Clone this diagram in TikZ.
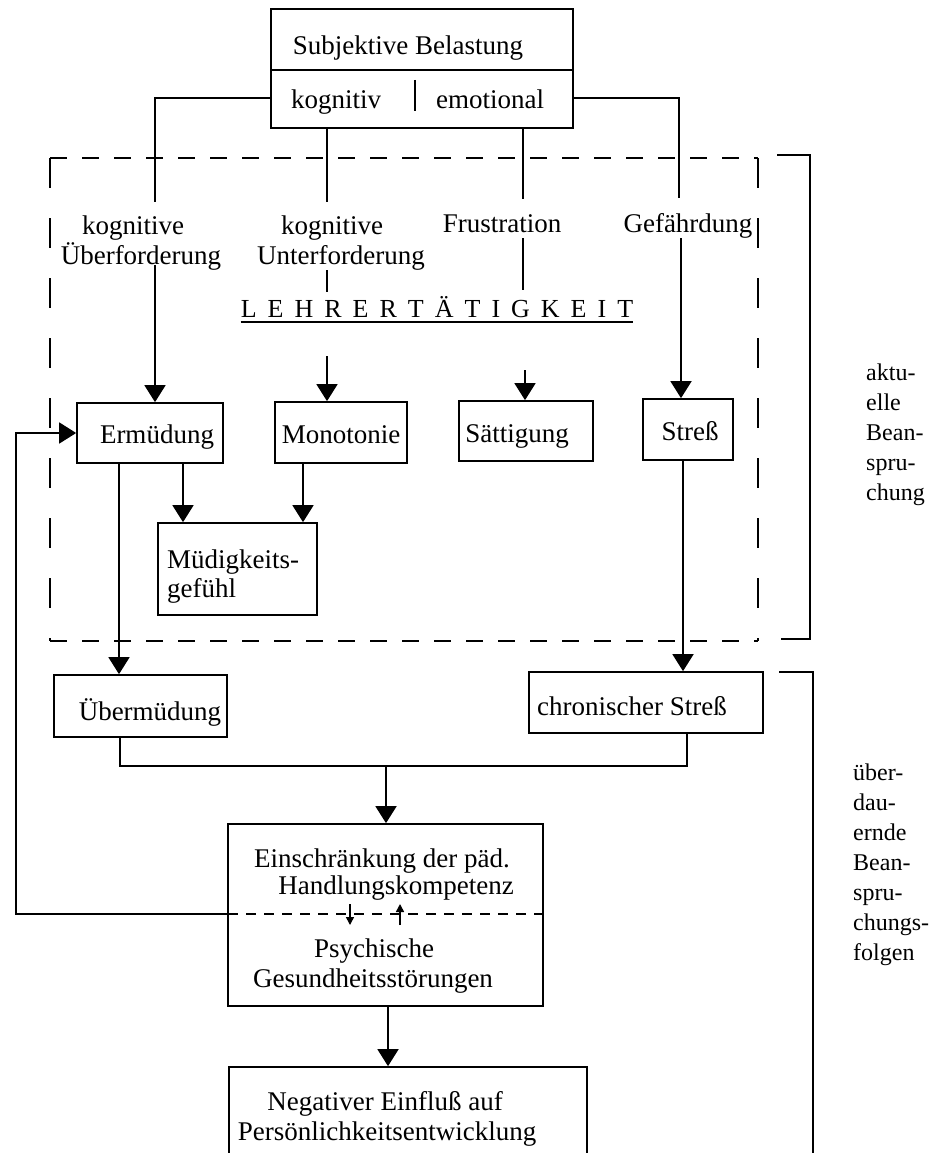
\documentclass[tikz,border=0pt]{standalone}
\usepackage{fontspec}
\setmainfont{Liberation Serif}
\usetikzlibrary{arrows.meta}

\newcommand\txtsize{\fontsize{27}{30}\selectfont}
\newcommand\sidesize{\fontsize{24}{28}\selectfont}

\tikzset{
  boxs/.style={draw, line width=1.7pt, inner sep=0pt},
  txt/.style={inner sep=0pt, font=\txtsize, anchor=base},
  side/.style={inner sep=0pt, font=\sidesize, anchor=base west},
  conn/.style={line width=1.7pt},
  arr/.style={conn, -{Triangle[length=17pt,width=21pt]}},
  tinyarr/.style={line width=1.5pt, -{Triangle[length=8pt,width=8pt]}},
  dashh/.style={line width=1.7pt, dash pattern=on 17pt off 15pt},
  dashv/.style={line width=1.7pt, dash pattern=on 30pt off 30pt},
  dashs/.style={line width=1.5pt, dash pattern=on 10pt off 8pt},
}

\begin{document}
\begin{tikzpicture}[x=1pt,y=-1pt]
\useasboundingbox (0,0) rectangle (942,1153);
\clip (0,0) rectangle (942,1153);

% ---------- top box ----------
\node[boxs, minimum width=302pt, minimum height=61pt] (belast) at (422,39.5) {};
\node[boxs, minimum width=302pt, minimum height=58pt] (art) at (422,99) {};
\node[txt] (belastT) at (408,55) {Subjektive Belastung};
\node[txt] (kog) at (336,109) {kognitiv};
\node[txt] (emo) at (490,109) {emotional};
\coordinate (barT) at (415,80);
\coordinate (barB) at (415,111);
\draw[conn] (barT) -- (barB);

% ---------- dashed frame ----------
\coordinate (fNW) at (50,158);
\coordinate (fNE) at (758,158);
\coordinate (fSE) at (758,641);
\coordinate (fSW) at (50,641);
\draw[dashh] (fNW) -- (fNE);
\draw[dashh] (fSW) -- (fSE);
\draw[dashv] (fNW) -- (fSW);
\draw[dashv] (fNE) -- (fSE);

% ---------- load types ----------
\node[txt] (uebA) at (133,234) {kognitive};
\node[txt] (uebB) at (141,264) {Überforderung};
\node[txt] (untA) at (332,234) {kognitive};
\node[txt] (untB) at (341,264) {Unterforderung};
\node[txt] (frus) at (502,232) {Frustration};
\node[txt] (gef) at (688,232) {Gefährdung};

% LEHRERTÄTIGKEIT, spaced and underlined
\node[txt, font=\fontsize{26}{28}\selectfont] (lehr) at (437,317)
  {L\hspace{11pt}E\hspace{11pt}H\hspace{11pt}R\hspace{11pt}E\hspace{11pt}R\hspace{11pt}T\hspace{11pt}Ä\hspace{11pt}T\hspace{11pt}I\hspace{11pt}G\hspace{11pt}K\hspace{11pt}E\hspace{11pt}I\hspace{11pt}T};
\draw[line width=1.4pt] ([yshift=-5pt]lehr.base west) -- ([yshift=-5pt]lehr.base east);

% ---------- current strain boxes ----------
\node[boxs, minimum width=146pt, minimum height=60pt] (erm) at (150,433) {};
\node[txt] (ermT) at (157,443) {Ermüdung};
\node[boxs, minimum width=132pt, minimum height=61pt] (mono) at (341,432.5) {};
\node[txt] (monoT) at (341,443) {Monotonie};
\node[boxs, minimum width=134pt, minimum height=60pt] (saett) at (526,431) {};
\node[txt] (saettT) at (517,442) {Sättigung};
\node[boxs, minimum width=90pt, minimum height=61pt] (stress) at (688,429.5) {};
\node[txt] (stressT) at (690,440) {Streß};
\node[boxs, minimum width=159pt, minimum height=92pt] (muede) at (237.5,569) {};
\node[txt, anchor=base west] (muedeA) at (167,568) {Müdigkeits-};
\node[txt, anchor=base west] (muedeB) at (167,597) {gefühl};

% ---------- lasting consequences ----------
\node[boxs, minimum width=173pt, minimum height=62pt] (uebm) at (140.5,706) {};
\node[txt] (uebmT) at (150,720) {Übermüdung};
\node[boxs, minimum width=234pt, minimum height=61pt] (chron) at (646,702.5) {};
\node[txt] (chronT) at (632,715) {chronischer Streß};
\node[boxs, minimum width=315pt, minimum height=182pt] (einsch) at (385.5,915) {};
\node[txt] (einA) at (382,867) {Einschränkung der päd.};
\node[txt] (einB) at (396,894) {Handlungskompetenz};
\node[txt] (psyA) at (374,957) {Psychische};
\node[txt] (psyB) at (373,987) {Gesundheitsstörungen};
\node[boxs, minimum width=358pt, minimum height=120pt] (negat) at (408,1127) {};
\node[txt] (negA) at (385,1110) {Negativer Einfluß auf};
\node[txt] (negB) at (387,1140) {Persönlichkeitsentwicklung};

% dashed divider with small two-way arrows
\coordinate (divW) at (228,914);
\coordinate (divE) at (543,914);
\draw[dashs] (divW) -- (divE);
\coordinate (dnT) at (350,904);
\coordinate (dnB) at (350,925);
\coordinate (upB) at (400,925);
\coordinate (upT) at (400,904);
\draw[tinyarr] (dnT) -- (dnB);
\draw[tinyarr] (upB) -- (upT);

% ---------- brackets and side labels ----------
\coordinate (b1a) at (777,155);
\coordinate (b1b) at (810,155);
\coordinate (b1c) at (810,639);
\coordinate (b1d) at (781,639);
\draw[conn] (b1a) -- (b1b) -- (b1c) -- (b1d);
\node[side] (ak1) at (866,380) {aktu-};
\node[side] (ak2) at (866,410) {elle};
\node[side] (ak3) at (866,440) {Bean-};
\node[side] (ak4) at (866,470) {spru-};
\node[side] (ak5) at (866,500) {chung};

\coordinate (b2a) at (779,672);
\coordinate (b2b) at (813,672);
\coordinate (b2c) at (813,1160);
\draw[conn] (b2a) -- (b2b) -- (b2c);
\node[side] (ue1) at (853,780) {über-};
\node[side] (ue2) at (853,810) {dau-};
\node[side] (ue3) at (853,840) {ernde};
\node[side] (ue4) at (853,870) {Bean-};
\node[side] (ue5) at (853,900) {spru-};
\node[side] (ue6) at (853,930) {chungs-};
\node[side] (ue7) at (853,960) {folgen};

% ---------- connectors from the top box ----------
\coordinate (k1) at (155,98);
\coordinate (k1e) at (155,202);
\draw[conn] (art.west |- k1) -- (k1) -- (k1e);
\coordinate (k2s) at (327,128);
\coordinate (k2e) at (327,202);
\draw[conn] (k2s) -- (k2e);
\coordinate (k3s) at (523,128);
\coordinate (k3e) at (523,199);
\draw[conn] (k3s) -- (k3e);
\coordinate (k4) at (679,98);
\coordinate (k4e) at (679,198);
\draw[conn] (art.east |- k4) -- (k4) -- (k4e);

% ---------- continuations below the labels ----------
\coordinate (u1s) at (155,265);
\draw[arr] (u1s) -- (u1s |- erm.north);
\coordinate (u2s) at (327,270);
\coordinate (u2e) at (327,292);
\draw[conn] (u2s) -- (u2e);
\coordinate (u3s) at (523,238);
\coordinate (u3e) at (523,290);
\draw[conn] (u3s) -- (u3e);
\coordinate (u4s) at (681,238);
\draw[arr] (u4s) -- (u4s |- stress.north);

\coordinate (m1s) at (327,356);
\draw[arr] (m1s) -- (m1s |- mono.north);
\coordinate (s1s) at (525,370);
\draw[arr] (s1s) -- (s1s |- saett.north);

% ---------- remaining connectors ----------
\coordinate (e1) at (183,463);
\draw[arr] (e1) -- (e1 |- muede.north);
\coordinate (e2) at (303,463);
\draw[arr] (e2) -- (e2 |- muede.north);
\coordinate (e3) at (119,463);
\draw[arr] (e3) -- (e3 |- uebm.north);
\coordinate (st1) at (683,460);
\draw[arr] (st1) -- (st1 |- chron.north);

\coordinate (jA) at (120,766);
\coordinate (jB) at (687,766);
\coordinate (jM) at (386,766);
\draw[conn] (jA |- uebm.south) -- (jA) -- (jB) -- (jB |- chron.south);
\draw[arr] (jM) -- (jM |- einsch.north);

\coordinate (n1) at (388,1006);
\draw[arr] (n1) -- (n1 |- negat.north);

% feedback loop back to Ermüdung
\coordinate (fbL) at (16,914);
\coordinate (fbT) at (16,433);
\draw[arr] (divW) -- (fbL) -- (fbT) -- (erm.west);
\end{tikzpicture}
\end{document}
